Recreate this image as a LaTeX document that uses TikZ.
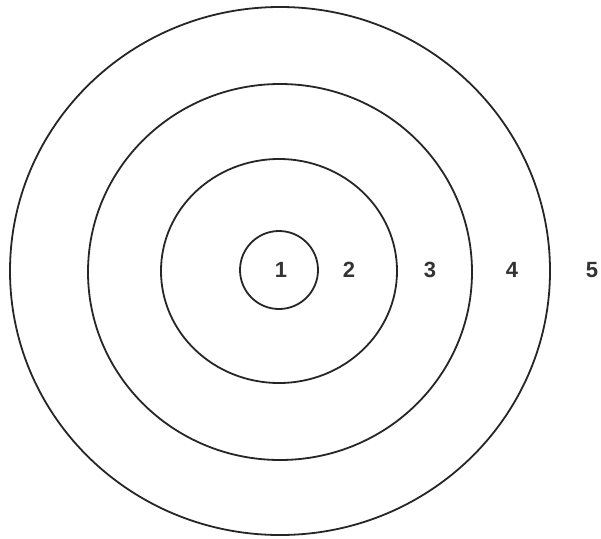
\documentclass[tikz,border=0pt]{standalone}
\usepackage{fontspec}
\setmainfont{Liberation Sans}
\begin{document}
\begin{tikzpicture}[x=1pt,y=-1pt,
  ring/.style={draw=black!85,line width=1.8pt},
  lab/.style={font=\fontsize{22}{22}\selectfont\bfseries, text=black!80, inner sep=0pt}]
\useasboundingbox[fill=white] (0,0) rectangle (601,538);
\draw[ring] (279,270) ellipse [x radius=39, y radius=39];
\draw[ring] (279,271) ellipse [x radius=118, y radius=112];
\draw[ring] (280,272) ellipse [x radius=192, y radius=188];
\draw[ring] (280,271) ellipse [x radius=270, y radius=264];
\node[lab] (n1) at (281,270) {1};
\node[lab] (n2) at (349,270) {2};
\node[lab] (n3) at (430,270) {3};
\node[lab] (n4) at (512,270) {4};
\node[lab] (n5) at (592,270) {5};
\end{tikzpicture}
\end{document}
